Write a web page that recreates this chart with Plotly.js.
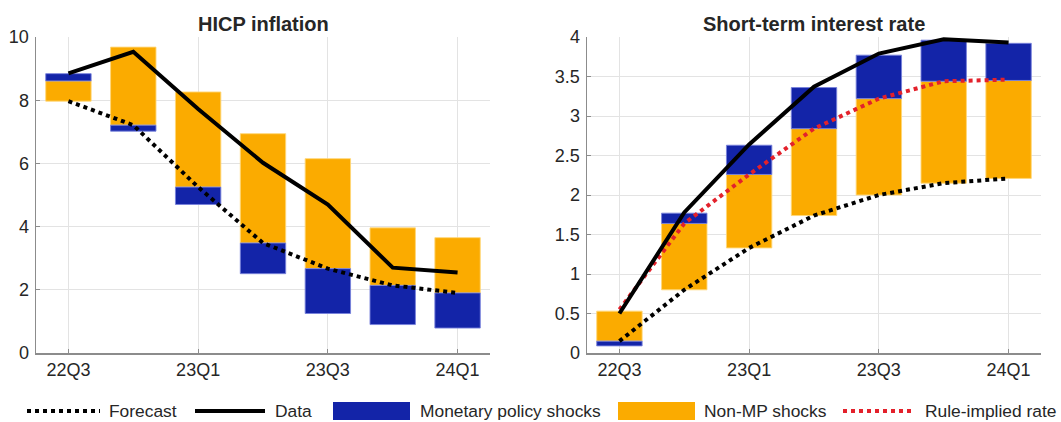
<!DOCTYPE html>
<html>
<head>
<meta charset="utf-8">
<script src="https://cdn.plot.ly/plotly-3.0.1.min.js"></script>
<style>html,body{margin:0;padding:0;background:#fff;}#chart{width:1061px;height:422px;}</style>
</head>
<body>
<div id="chart"></div>
<script>
// ---- data ----
const quarters = ['22Q3','22Q4','23Q1','23Q2','23Q3','23Q4','24Q1'];
const tickQuarters = ['22Q3','23Q1','23Q3','24Q1'];

// HICP inflation
const hicpForecast = [7.97, 7.21, 5.25, 3.48, 2.67, 2.14, 1.90];
const hicpNonMP    = [0.64, 2.47, 3.01, 3.46, 3.48, 1.82, 1.75];
const hicpMP       = [0.23, -0.19, -0.55, -0.97, -1.42, -1.24, -1.11];
const hicpData     = [8.85, 9.53, 7.72, 6.02, 4.70, 2.70, 2.55];

// Short-term interest rate
const rateForecast = [0.15, 0.80, 1.33, 1.74, 2.00, 2.15, 2.21];
const rateNonMP    = [0.38, 0.84, 0.93, 1.10, 1.22, 1.29, 1.24];
const rateMP       = [-0.06, 0.13, 0.37, 0.52, 0.55, 0.52, 0.47];
const rateData     = [0.50, 1.78, 2.64, 3.37, 3.79, 3.97, 3.93];
const rateRule     = [0.55, 1.64, 2.26, 2.84, 3.22, 3.44, 3.46];

// ---- styling ----
const BLUE = '#1324a8', ORANGE = '#fbab00', RED = '#e3212b', BLACK = '#000000';
const FONT = 'Liberation Sans, Arial, Helvetica, sans-serif';
const TXT = '#262626', AXC = '#8c8c8c', GRID = '#e3e3e3';

// stack contributions on top of / below the forecast (relative stacking)
function stackBases(forecast, comps) {
  const pos = forecast.slice(), neg = forecast.slice();
  return comps.map(vals => vals.map((v, i) => {
    let b;
    if (v >= 0) { b = pos[i]; pos[i] += v; } else { b = neg[i]; neg[i] += v; }
    return b;
  }));
}

function panel(forecast, nonMP, mp, data, rule, xa, ya) {
  const [bNon, bMP] = stackBases(forecast, [nonMP, mp]);
  const tr = [];
  tr.push({type:'bar', x:quarters, y:nonMP, base:bNon, width:0.7, xaxis:xa, yaxis:ya,
    marker:{color:ORANGE, line:{color:'rgba(255,215,120,0.9)', width:1}}, hoverinfo:'skip', showlegend:false});
  tr.push({type:'bar', x:quarters, y:mp, base:bMP, width:0.7, xaxis:xa, yaxis:ya,
    marker:{color:BLUE, line:{color:'rgba(120,130,220,0.9)', width:1}}, hoverinfo:'skip', showlegend:false});
  tr.push({type:'scatter', mode:'lines', x:quarters, y:forecast, xaxis:xa, yaxis:ya,
    line:{color:BLACK, width:4, dash:'dot'}, showlegend:false});
  if (rule) tr.push({type:'scatter', mode:'lines', x:quarters, y:rule, xaxis:xa, yaxis:ya,
    line:{color:RED, width:4, dash:'dot'}, showlegend:false});
  tr.push({type:'scatter', mode:'lines', x:quarters, y:data, xaxis:xa, yaxis:ya,
    line:{color:BLACK, width:4}, showlegend:false});
  return tr;
}

const traces = [].concat(
  panel(hicpForecast, hicpNonMP, hicpMP, hicpData, null, 'x', 'y'),
  panel(rateForecast, rateNonMP, rateMP, rateData, rateRule, 'x2', 'y2')
);

const W = 1061, H = 422;
const px = v => v / W, py = v => 1 - v / H;

function xAxis(dom, anchor) {
  return {domain:dom, anchor:anchor, type:'category', categoryorder:'array', categoryarray:quarters,
    range:[-0.5, 6.5], tickmode:'array', tickvals:tickQuarters, showgrid:true, gridcolor:GRID, gridwidth:1,
    showline:true, linecolor:AXC, linewidth:1.5, ticks:'inside', ticklen:4, tickcolor:AXC, tickwidth:1,
    tickfont:{family:FONT, size:18, color:TXT}, zeroline:false, fixedrange:true};
}
function yAxis(range, dtick, anchor) {
  return {domain:[py(353), py(37)], anchor:anchor, range:range, dtick:dtick, showgrid:true, gridcolor:GRID,
    gridwidth:1, showline:true, linecolor:AXC, linewidth:1.5, ticks:'inside', ticklen:4, tickcolor:AXC,
    tickwidth:1, tickfont:{family:FONT, size:18, color:TXT}, zeroline:false, fixedrange:true, ticklabelstandoff:2};
}

// custom legend
const legY = py(411);
const legendItems = [
  {kind:'line', x0:27, x1:100, color:BLACK, dash:'dot', text:'Forecast', tx:107},
  {kind:'line', x0:195, x1:265, color:BLACK, dash:'solid', text:'Data', tx:273},
  {kind:'rect', x0:333, x1:410, color:BLUE, text:'Monetary policy shocks', tx:418},
  {kind:'rect', x0:618, x1:695, color:ORANGE, text:'Non-MP shocks', tx:702},
  {kind:'line', x0:843, x1:915, color:RED, dash:'dot', text:'Rule-implied rate', tx:923}
];
const shapes = [], annotations = [];
legendItems.forEach(it => {
  if (it.kind === 'line') {
    shapes.push({type:'line', xref:'paper', yref:'paper', x0:px(it.x0), x1:px(it.x1), y0:legY, y1:legY,
      line:{color:it.color, width:4, dash:it.dash}});
  } else {
    shapes.push({type:'rect', xref:'paper', yref:'paper', x0:px(it.x0), x1:px(it.x1), y0:py(420), y1:py(402),
      fillcolor:it.color, line:{width:0}});
  }
  annotations.push({xref:'paper', yref:'paper', x:px(it.tx), y:legY, xanchor:'left', yanchor:'middle',
    text:it.text, showarrow:false, font:{family:FONT, size:17.4, color:TXT}});
});
annotations.push({xref:'paper', yref:'paper', x:px(263), y:py(24), xanchor:'center', yanchor:'middle',
  text:'<b>HICP inflation</b>', showarrow:false, font:{family:FONT, size:20, color:TXT}});
annotations.push({xref:'paper', yref:'paper', x:px(814), y:py(24), xanchor:'center', yanchor:'middle',
  text:'<b>Short-term interest rate</b>', showarrow:false, font:{family:FONT, size:20, color:TXT}});

const layout = {
  width:W, height:H, margin:{l:0, r:0, t:0, b:0}, paper_bgcolor:'#fff', plot_bgcolor:'#fff',
  barmode:'overlay', showlegend:false, font:{family:FONT, color:TXT},
  xaxis: xAxis([px(36), px(490)], 'y'),
  yaxis: yAxis([0, 10], 2, 'x'),
  xaxis2: xAxis([px(587), px(1041)], 'y2'),
  yaxis2: yAxis([0, 4], 0.5, 'x2'),
  shapes: shapes, annotations: annotations
};

Plotly.newPlot('chart', traces, layout, {displayModeBar:false, staticPlot:true});
</script>
</body>
</html>
